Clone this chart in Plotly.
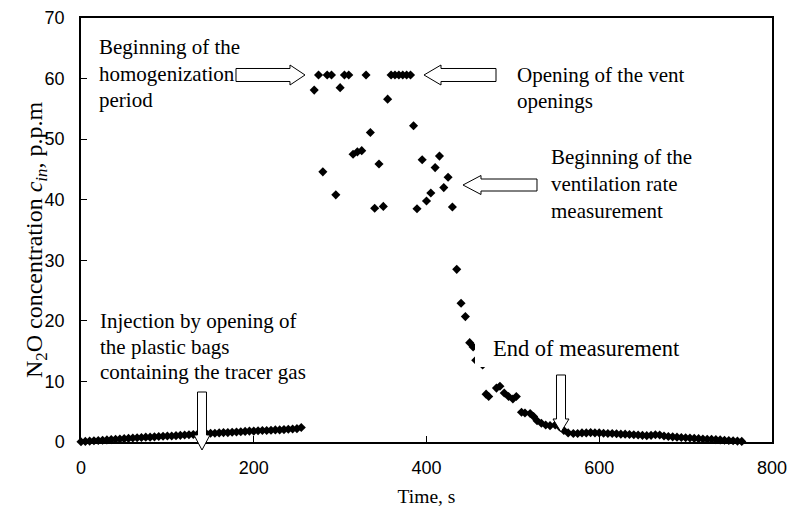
import plotly.graph_objects as go

# ---------------- data ----------------
low_t = [0, 5, 10, 15, 20, 25, 30, 35, 40, 45, 50, 55, 60, 65, 70, 75, 80, 85, 90, 95,
         100, 105, 110, 115, 120, 125, 130, 135, 140, 145, 150, 155, 160, 165, 170, 175,
         180, 185, 190, 195, 200, 205, 210, 215, 220, 225, 230, 235, 240, 245, 250, 255]
low_v = [0.05, 0.1, 0.15, 0.2, 0.25, 0.3, 0.35, 0.4, 0.45, 0.5, 0.55, 0.6, 0.65, 0.7, 0.75, 0.8,
         0.8, 0.85, 0.9, 0.95, 1.0, 1.0, 1.05, 1.1, 1.15, 1.2, 1.25, 1.3, 1.35, 1.4, 1.45, 1.45,
         1.5, 1.55, 1.55, 1.6, 1.65, 1.7, 1.75, 1.8, 1.8, 1.85, 1.9, 1.9, 1.95, 2.0, 2.0, 2.05,
         2.1, 2.15, 2.2, 2.4]

mid_t = [270, 275, 280, 285, 290, 295, 300, 305, 310, 315, 320, 325, 330, 335, 340, 345,
         350, 355, 359, 363.5, 368, 372.5, 377, 381.5, 385, 389, 395, 400, 405, 410, 415,
         420, 425, 430, 435, 440, 445, 450, 454, 457, 465, 469, 472, 481, 485, 490, 495,
         500, 504, 510, 514, 520, 524, 528, 533, 538, 543, 549, 554, 559, 564, 570, 575]
mid_v = [58.1, 60.6, 44.6, 60.6, 60.6, 40.8, 58.5, 60.6, 60.6, 47.5, 47.9, 48.1, 60.6, 51.1,
         38.6, 45.9, 38.9, 56.6, 60.6, 60.6, 60.6, 60.6, 60.6, 60.6, 52.2, 38.5, 46.6, 39.8,
         41.1, 45.3, 47.2, 42.0, 43.7, 38.8, 28.5, 22.9, 20.7, 16.4, 15.7, 13.5, 12.7, 7.9,
         7.5, 8.9, 9.2, 8.1, 7.5, 7.1, 7.5, 4.9, 4.8, 4.7, 4.2, 3.5, 3.1, 2.8, 2.7, 2.8,
         2.5, 1.9, 1.5, 1.4, 1.4]

tail_t = [580, 585, 590, 595, 600, 605, 610, 615, 620, 625, 630, 635, 640, 645, 650, 655,
          660, 665, 670, 675, 680, 685, 690, 695, 700, 705, 710, 715, 720, 725, 730, 735,
          740, 745, 750, 755, 760, 765]
tail_v = [1.5, 1.5, 1.55, 1.5, 1.5, 1.45, 1.4, 1.4, 1.35, 1.3, 1.3, 1.25, 1.2, 1.15, 1.1,
          1.05, 1.1, 1.2, 1.15, 1.0, 0.9, 0.85, 0.8, 0.75, 0.7, 0.65, 0.6, 0.55, 0.5, 0.45,
          0.45, 0.4, 0.35, 0.3, 0.25, 0.2, 0.15, 0.1]

x_ticks = [0, 200, 400, 600, 800]
y_ticks = [0, 10, 20, 30, 40, 50, 60, 70]

time_all = low_t + mid_t + tail_t
conc_all = low_v + mid_v + tail_v

# ---------------- layout geometry (pixels) ----------------
W, H = 787, 518
L, R, T, B = 81, 772, 18, 442


def px(x):
    return (x - L) / (R - L)


def py(y):
    return (B - y) / (B - T)


SERIF = "Liberation Serif, Times New Roman, serif"
SANS = "Liberation Sans, Arial, sans-serif"

fig = go.Figure()
fig.add_trace(go.Scatter(
    x=time_all, y=conc_all, mode="markers",
    marker=dict(symbol="diamond", size=7, color="black", line=dict(width=0)),
    showlegend=False, cliponaxis=False))


def arrow_path(tip, tail, direction, sh, hh, hl):
    tx, ty = tip
    if direction == "right":
        pts = [(tail, ty - sh), (tx - hl, ty - sh), (tx - hl, ty - hh), (tx, ty),
               (tx - hl, ty + hh), (tx - hl, ty + sh), (tail, ty + sh)]
    elif direction == "left":
        pts = [(tail, ty - sh), (tx + hl, ty - sh), (tx + hl, ty - hh), (tx, ty),
               (tx + hl, ty + hh), (tx + hl, ty + sh), (tail, ty + sh)]
    else:  # down
        pts = [(tx - sh, tail), (tx - sh, ty - hl), (tx - hh, ty - hl), (tx, ty),
               (tx + hh, ty - hl), (tx + sh, ty - hl), (tx + sh, tail)]
    return "M " + " L ".join(f"{px(a):.5f},{py(b):.5f}" for a, b in pts) + " Z"


shapes = []
# white text box behind "End of measurement" (hides the points under it)
shapes.append(dict(type="rect", xref="paper", yref="paper",
                   x0=px(475), x1=px(690), y0=py(367), y1=py(330),
                   fillcolor="white", line=dict(width=0), layer="above"))

arrows = [
    ((305, 75), 236, "right", 6.5, 10, 15),
    ((424, 75), 496, "left", 6.5, 10, 17),
    ((463, 185), 537, "left", 6, 9.5, 18),
    ((202, 450), 392, "down", 4.5, 8, 15),
    ((561, 432), 375, "down", 4.5, 8, 13),
]
for tip, tail, d, sh, hh, hl in arrows:
    shapes.append(dict(type="path", xref="paper", yref="paper",
                       path=arrow_path(tip, tail, d, sh, hh, hl),
                       fillcolor="white", line=dict(color="black", width=1), layer="above"))

labels = [
    ("Beginning of the", 97, 47, 21),
    ("homogenization", 97, 74, 21),
    ("period", 97, 100, 21),
    ("Opening of the vent", 515, 75, 21),
    ("openings", 515, 101, 21),
    ("Beginning of the", 549, 157, 21),
    ("ventilation rate", 549, 184, 21),
    ("measurement", 549, 211, 21),
    ("Injection by opening of", 98, 321, 21),
    ("the plastic bags", 98, 347, 21),
    ("containing the tracer gas", 98, 372, 21),
    ("End of measurement", 491, 348, 22.5),
]
annotations = []
for text, x, y, s in labels:
    annotations.append(dict(text=text, x=px(x), y=py(y), xref="paper", yref="paper",
                            xanchor="left", yanchor="middle", showarrow=False,
                            font=dict(family=SERIF, size=s, color="black")))
# y-axis title
annotations.append(dict(text="N<sub>2</sub>O concentration <i>c<sub>in</sub></i>, p.p.m",
                        x=px(36), y=py(240), xref="paper", yref="paper",
                        xanchor="center", yanchor="middle", textangle=-90, showarrow=False,
                        font=dict(family=SERIF, size=24, color="black")))

fig.update_layout(
    width=W, height=H,
    margin=dict(l=L, r=W - R, t=T, b=H - B),
    paper_bgcolor="white", plot_bgcolor="white",
    shapes=shapes, annotations=annotations,
    xaxis=dict(range=[0, 800], tickvals=x_ticks, ticks="inside", ticklen=6,
               tickcolor="black", showline=True, linecolor="black", linewidth=1.5,
               mirror=True, showgrid=False, zeroline=False, automargin=False,
               tickfont=dict(family=SANS, size=18, color="black"),
               ticklabelstandoff=9, ticklabeloverflow="allow",
               title=dict(text="Time, s", font=dict(family=SERIF, size=19.5, color="black"),
                          standoff=12)),
    yaxis=dict(range=[0, 70], tickvals=y_ticks, ticks="inside", ticklen=6,
               tickcolor="black", showline=True, linecolor="black", linewidth=1.5,
               mirror=True, showgrid=False, zeroline=False, automargin=False,
               tickfont=dict(family=SANS, size=18, color="black"),
               ticklabelstandoff=11, ticklabeloverflow="allow"),
)

fig.write_html("out.html")
